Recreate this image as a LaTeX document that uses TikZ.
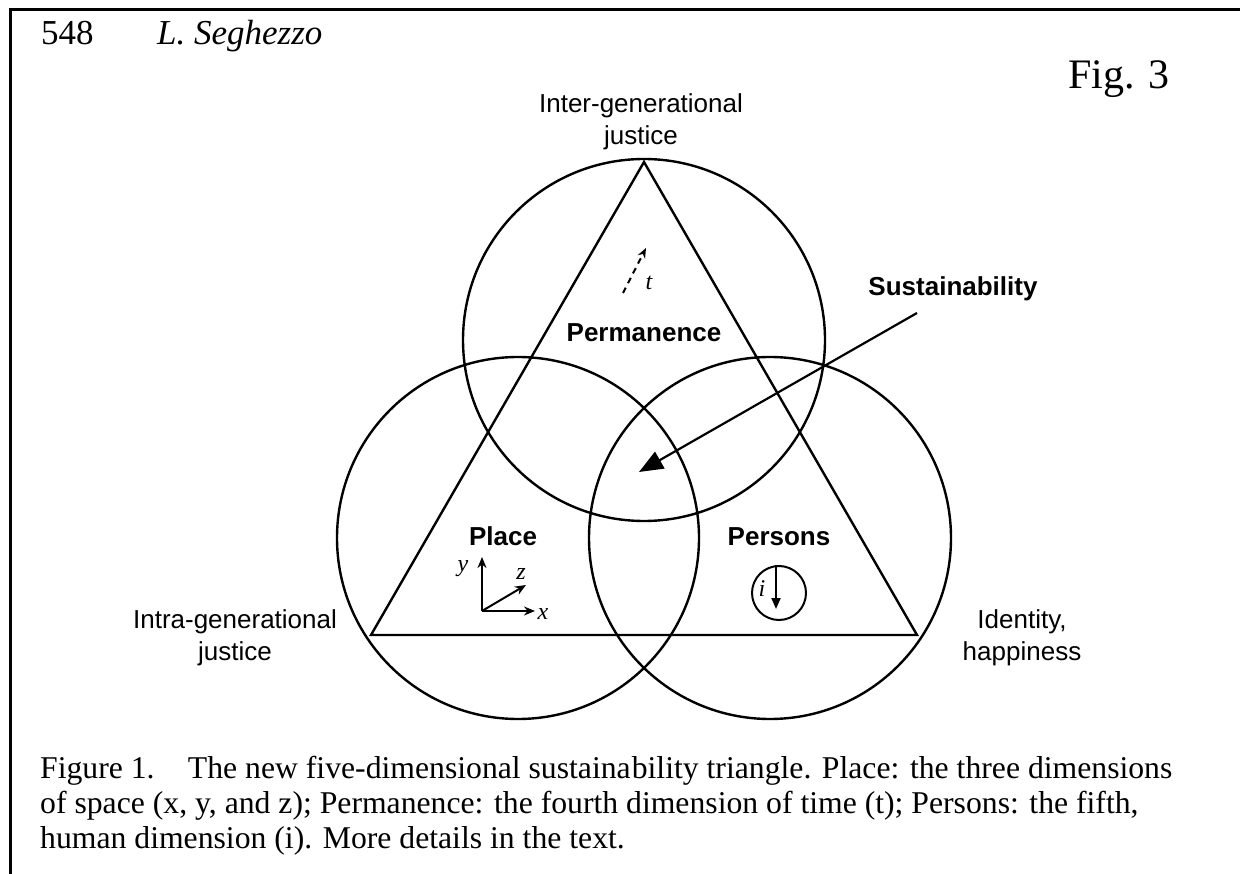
\documentclass[tikz,border=0pt]{standalone}
\usepackage{fontspec}
\setmainfont{Liberation Serif}
\newfontfamily\arialf{Liberation Sans}
\usetikzlibrary{arrows.meta}
\begin{document}
\begin{tikzpicture}[x=1pt,y=-1pt,
  ring/.style={draw,line width=2.4pt},
  lbl/.style={font=\fontsize{26}{32}\selectfont\arialf,anchor=base,inner sep=0pt},
  blbl/.style={font=\fontsize{26}{32}\selectfont\arialf\bfseries,anchor=base,inner sep=0pt},
  ital/.style={font=\fontsize{24}{26}\selectfont\itshape,inner sep=0pt},
  captxt/.style={font=\fontsize{31.7}{35}\selectfont,anchor=base west,inner sep=0pt},
  ax/.style={line width=2pt,-{Stealth[length=11pt,width=9pt]}}]
\useasboundingbox (0,0) rectangle (1240,874);
\fill[white] (0,0) rectangle (1240,874);
% frame
\draw[line width=3pt] (10,874) -- (10,10) -- (1240,10);
% header
\node[anchor=base west,font=\fontsize{35}{40}\selectfont,inner sep=0pt] (pg) at (41,45) {548};
\node[anchor=base west,font=\fontsize{35}{40}\selectfont\itshape,inner sep=0pt] (au) at (157,45) {L. Seghezzo};
\node[anchor=base west,font=\fontsize{42}{48}\selectfont,inner sep=0pt] (fig) at (1068,89) {Fig. 3};
% circles
\draw[ring] (644,340) circle[radius=181];
\draw[ring] (518,538) circle[radius=181];
\draw[ring] (770,538) circle[radius=181];
% triangle
\coordinate (A) at (644,162);
\coordinate (B) at (371,635);
\coordinate (C) at (917,635);
\draw[ring,line join=miter] (A) -- (B) -- (C) -- cycle;
% labels
\node[lbl] (inter1) at (641,113) {Inter-generational};
\node[lbl] (inter2) at (641,145) {justice};
\node[lbl] (intra1) at (235,628) {Intra-generational};
\node[lbl] (intra2) at (235,660) {justice};
\node[lbl] (ident1) at (1022,628) {Identity,};
\node[lbl] (ident2) at (1022,660) {happiness};
\node[blbl] (perm) at (644,342) {Permanence};
\node[blbl] (place) at (503,545) {Place};
\node[blbl] (pers) at (779,545) {Persons};
\node[blbl] (sust) at (953,296) {Sustainability};
% sustainability arrow
\coordinate (s0) at (917,313);
\coordinate (s1) at (639,472);
\draw[line width=2.2pt,-{Triangle[length=24pt,width=19pt]}] (s0) -- (s1);
% time arrow
\coordinate (t0) at (623,293);
\coordinate (t1) at (646,248);
\draw[line width=2pt,dash pattern=on 6pt off 5pt,-{Stealth[length=10pt,width=8pt]}] (t0) -- (t1);
\node[ital] (t) at (649,283) {t};
% xyz axes
\coordinate (o) at (482,611);
\coordinate (xe) at (535,611);
\coordinate (ye) at (482,557);
\coordinate (ze) at (526,585);
\draw[ax] (o) -- (xe);
\draw[ax] (o) -- (ye);
\draw[ax] (o) -- (ze);
\node[ital] (xl) at (543,614) {x};
\node[ital] (yl) at (463,569) {y};
\node[ital] (zl) at (521,574) {z};
% i circle
\node[draw,circle,line width=2pt,minimum size=54pt,inner sep=0pt] (icirc) at (779,593) {};
\coordinate (i1) at (776,609);
\draw[line width=2pt,-{Triangle[length=11pt,width=9pt]}] (icirc.north -| i1) -- (i1);
\node[ital] (il) at (762,589) {i};
% caption
\node[captxt] (c1) at (40,778) {Figure 1.\hspace{1.05em}The new five-dimensional sustaina\kern1pt bility triangle. Place: the three dimensions};
\node[captxt] (c2) at (40,813) {of space (x, y, and z); Permanence: the fourth dimension of time (t); Persons: the fifth,};
\node[captxt] (c3) at (40,848) {human dimension (i). More details in the text.};
\end{tikzpicture}
\end{document}
